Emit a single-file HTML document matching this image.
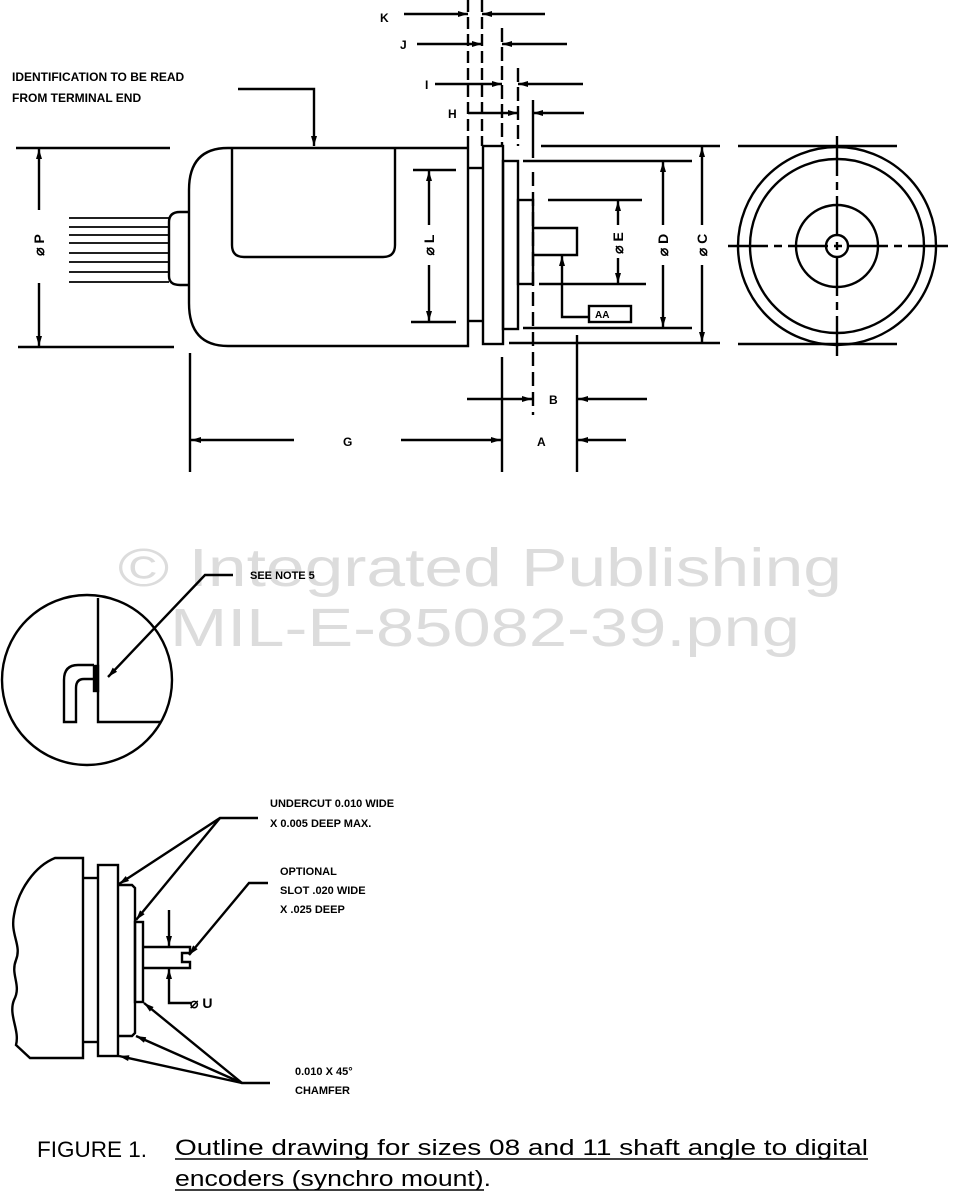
<!DOCTYPE html>
<html><head><meta charset="utf-8"><style>
html,body{margin:0;padding:0;background:#fff}
svg{display:block}
text{font-family:"Liberation Sans",sans-serif;font-weight:bold;fill:#000}
</style></head><body>
<svg width="964" height="1192" viewBox="0 0 964 1192" xmlns="http://www.w3.org/2000/svg">
<defs>
<marker id="ar" viewBox="0 0 10 6" refX="10" refY="3" markerWidth="11" markerHeight="6" markerUnits="userSpaceOnUse" orient="auto"><path d="M0,0 L10,3 L0,6 Z" fill="#000"/></marker>
</defs>
<!-- watermark -->
<g font-family="Liberation Sans,sans-serif" font-size="54">
<text x="118" y="586" style="fill:#dcdcdc;font-weight:normal" textLength="724" lengthAdjust="spacingAndGlyphs">© Integrated Publishing</text>
<text x="170" y="646" style="fill:#dcdcdc;font-weight:normal" textLength="630" lengthAdjust="spacingAndGlyphs">MIL-E-85082-39.png</text>
</g>
<g stroke="#000" stroke-width="2.4" fill="none">
<line x1="468" y1="0" x2="468" y2="146" stroke-dasharray="12,5"/>
<line x1="482" y1="0" x2="482" y2="146" stroke-dasharray="12,5"/>
<line x1="502" y1="28" x2="502" y2="146" stroke-dasharray="14,5"/>
<line x1="518" y1="68" x2="518" y2="146" stroke-dasharray="14,5"/>
<line x1="533" y1="100" x2="533" y2="158"/>
<line x1="533" y1="172" x2="533" y2="415" stroke-dasharray="14,6"/>
<line x1="404" y1="14" x2="468" y2="14" marker-end="url(#ar)"/>
<line x1="545" y1="14" x2="482" y2="14" marker-end="url(#ar)"/>
<line x1="417" y1="44" x2="482" y2="44" marker-end="url(#ar)"/>
<line x1="567" y1="44" x2="502" y2="44" marker-end="url(#ar)"/>
<line x1="435" y1="84" x2="502" y2="84" marker-end="url(#ar)"/>
<line x1="583" y1="84" x2="518" y2="84" marker-end="url(#ar)"/>
<line x1="468" y1="113" x2="518" y2="113" marker-end="url(#ar)"/>
<line x1="584" y1="113" x2="533" y2="113" marker-end="url(#ar)"/>
<path d="M468,148 L228,148 Q189,148 189,190 L189,303 Q189,346 228,346 L468,346 L468,146"/>
<path d="M232,148 L232,245 Q232,257 244,257 L383,257 Q395,257 395,245 L395,148"/>
<path d="M189,212 L180,212 Q169,212 169,222 L169,276 Q169,285 180,285 L189,285"/>
<g stroke-width="1.8">
<line x1="69" y1="218" x2="169" y2="218"/><line x1="69" y1="227" x2="169" y2="227"/>
<line x1="69" y1="235" x2="169" y2="235"/><line x1="69" y1="243" x2="169" y2="243"/>
<line x1="69" y1="253" x2="169" y2="253"/><line x1="69" y1="262" x2="169" y2="262"/>
<line x1="69" y1="272" x2="169" y2="272"/><line x1="69" y1="282" x2="169" y2="282"/>
</g>
<line x1="468" y1="168" x2="483" y2="168"/><line x1="468" y1="321" x2="483" y2="321"/>
<rect x="483" y="146" width="20" height="198"/>
<rect x="503" y="161" width="15" height="168"/>
<rect x="518" y="200" width="15" height="84"/>
<path d="M533,228 L577,228 L577,255 L533,255"/>
<polyline points="238,89 314,89 314,146" marker-end="url(#ar)"/>
<line x1="16" y1="148" x2="170" y2="148"/><line x1="18" y1="347" x2="174" y2="347"/>
<line x1="39" y1="210" x2="39" y2="149" marker-end="url(#ar)"/>
<line x1="39" y1="283" x2="39" y2="346" marker-end="url(#ar)"/>
<line x1="413" y1="170" x2="456" y2="170"/><line x1="411" y1="322" x2="456" y2="322"/>
<line x1="429" y1="225" x2="429" y2="171" marker-end="url(#ar)"/>
<line x1="429" y1="265" x2="429" y2="321" marker-end="url(#ar)"/>
<line x1="541" y1="146" x2="720" y2="146"/><line x1="523" y1="161" x2="692" y2="161"/>
<line x1="548" y1="200" x2="642" y2="200"/><line x1="539" y1="284" x2="646" y2="284"/>
<line x1="523" y1="328" x2="692" y2="328"/><line x1="509" y1="343" x2="720" y2="343"/>
<line x1="618" y1="225" x2="618" y2="201" marker-end="url(#ar)"/>
<line x1="618" y1="258" x2="618" y2="283" marker-end="url(#ar)"/>
<line x1="663" y1="225" x2="663" y2="162" marker-end="url(#ar)"/>
<line x1="663" y1="265" x2="663" y2="327" marker-end="url(#ar)"/>
<line x1="702" y1="225" x2="702" y2="147" marker-end="url(#ar)"/>
<line x1="702" y1="265" x2="702" y2="342" marker-end="url(#ar)"/>
<polyline points="589,317 562,317 562,256" marker-end="url(#ar)"/>
<rect x="589" y="306" width="42" height="16"/>
<line x1="190" y1="353" x2="190" y2="472"/>
<line x1="502" y1="357" x2="502" y2="472"/>
<line x1="577" y1="335" x2="577" y2="472"/>
<line x1="467" y1="399" x2="532" y2="399" marker-end="url(#ar)"/>
<line x1="647" y1="399" x2="578" y2="399" marker-end="url(#ar)"/>
<line x1="401" y1="440" x2="501" y2="440" marker-end="url(#ar)"/>
<line x1="626" y1="440" x2="578" y2="440" marker-end="url(#ar)"/>
<line x1="294" y1="440" x2="191" y2="440" marker-end="url(#ar)"/>
<line x1="738" y1="146" x2="897" y2="146"/><line x1="738" y1="344" x2="897" y2="344"/>
<circle cx="837" cy="246" r="99"/><circle cx="837" cy="246" r="87"/>
<circle cx="837" cy="246" r="41"/><circle cx="837" cy="246" r="11"/>
<line x1="728" y1="246" x2="948" y2="246" stroke-dasharray="40,6,8,6"/>
<line x1="837" y1="136" x2="837" y2="360" stroke-dasharray="40,6,8,6"/>
<circle cx="87" cy="680" r="85"/>
<polyline points="98,598 98,722 160,722"/>
<path d="M94,665 L78,665 Q64,665 64,680 L64,722 L76,722 L76,688 Q76,679 84,679 L94,679"/>
<rect x="94" y="666" width="4" height="25" fill="#000"/>
<polyline points="233,575 205,575 108,677" marker-end="url(#ar)"/>
<path d="M83,858 L55,858 C35,866 18,890 14,915 C10,935 22,945 16,960 C10,975 22,985 14,1000 C8,1015 20,1030 16,1045 L30,1058 L83,1058 Z"/>
<line x1="83" y1="878" x2="98" y2="878"/><line x1="83" y1="1042" x2="98" y2="1042"/>
<rect x="98" y="865" width="20" height="191"/>
<path d="M118,885 L132,885 L135,888 L135,1033 L132,1036 L118,1036"/>
<rect x="135" y="922" width="8" height="80"/>
<path d="M143,947 L190,947 L190,953 L182,953 L182,962 L190,962 L190,968 L143,968"/>
<line x1="169" y1="910" x2="169" y2="946" marker-end="url(#ar)"/>
<polyline points="192,1003 169,1003 169,969" marker-end="url(#ar)"/>
<polyline points="258,818 220,818 119,884" marker-end="url(#ar)"/>
<line x1="220" y1="818" x2="136" y2="920" marker-end="url(#ar)"/>
<polyline points="268,883 249,883 189,955" marker-end="url(#ar)"/>
<polyline points="270,1083 242,1083 144,1003" marker-end="url(#ar)"/>
<line x1="242" y1="1083" x2="136" y2="1036" marker-end="url(#ar)"/>
<line x1="242" y1="1083" x2="119" y2="1056" marker-end="url(#ar)"/>
<g stroke-width="1.6">
<line x1="175" y1="1159" x2="868" y2="1159"/>
<line x1="175" y1="1190" x2="484" y2="1190"/>
</g>
</g>
<g font-size="12">
<text x="380" y="22">K</text><text x="400" y="49">J</text><text x="425" y="89">I</text><text x="448" y="118">H</text>
<text x="12" y="81">IDENTIFICATION TO BE READ</text>
<text x="12" y="102">FROM TERMINAL END</text>
<text x="549" y="404">B</text><text x="537" y="446">A</text><text x="343" y="446">G</text>
<text x="595" y="318" font-size="10">AA</text>
<text transform="translate(44,245) rotate(-90)" text-anchor="middle" font-size="14">⌀ P</text>
<text transform="translate(434,245) rotate(-90)" text-anchor="middle" font-size="14">⌀ L</text>
<text transform="translate(623,243) rotate(-90)" text-anchor="middle" font-size="14">⌀ E</text>
<text transform="translate(668,245) rotate(-90)" text-anchor="middle" font-size="14">⌀ D</text>
<text transform="translate(707,245) rotate(-90)" text-anchor="middle" font-size="14">⌀ C</text>
<text x="250" y="579" font-size="11">SEE NOTE 5</text>
<text x="270" y="807" font-size="11">UNDERCUT 0.010 WIDE</text>
<text x="270" y="827" font-size="11">X 0.005 DEEP MAX.</text>
<text x="280" y="875" font-size="11">OPTIONAL</text>
<text x="280" y="894" font-size="11">SLOT .020 WIDE</text>
<text x="280" y="913" font-size="11">X .025 DEEP</text>
<text x="190" y="1008" font-size="14">⌀ U</text>
<text x="295" y="1075" font-size="11">0.010 X 45°</text>
<text x="295" y="1094" font-size="11">CHAMFER</text>
</g>
<g font-size="22">
<text x="37" y="1157" style="font-weight:normal" textLength="110" lengthAdjust="spacingAndGlyphs">FIGURE 1.</text>
<text x="175" y="1155" style="font-weight:normal" textLength="693" lengthAdjust="spacingAndGlyphs">Outline drawing for sizes 08 and 11 shaft angle to digital</text>
<text x="175" y="1186" style="font-weight:normal" textLength="316" lengthAdjust="spacingAndGlyphs">encoders (synchro mount).</text>
</g>
</svg>
</body></html>
